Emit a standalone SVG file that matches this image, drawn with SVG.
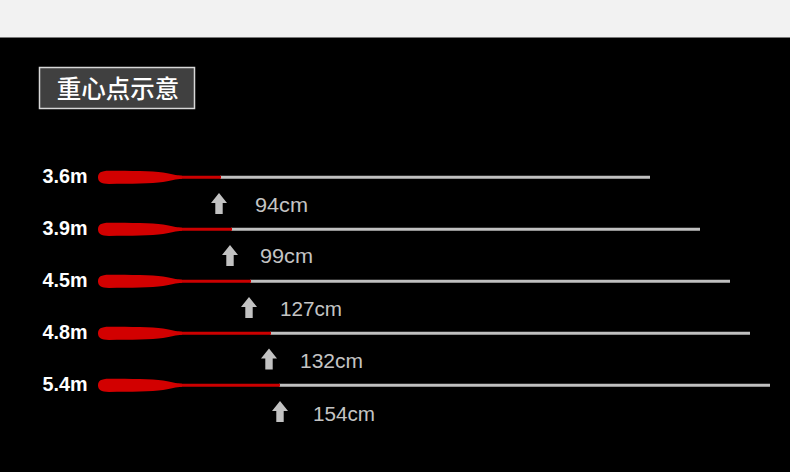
<svg xmlns="http://www.w3.org/2000/svg" xmlns:xlink="http://www.w3.org/1999/xlink" width="790" height="472" viewBox="0 0 790 472">
<style>
.len{font-family:"Liberation Sans",Arial,sans-serif;font-weight:bold;font-size:19.5px;fill:#ffffff}
.val{font-family:"Liberation Sans",Arial,sans-serif;font-size:20px;fill:#c4c4c4}
.red{stroke:#cc0000;stroke-width:3;fill:none}
.gray{stroke:#c0c0c0;stroke-width:3;fill:none}
.handle{fill:#d20000}
.arr{fill:#c2c2c2}
.title{font-family:"Noto Sans CJK SC","Noto Sans",sans-serif;font-weight:500;font-size:24.5px;fill:#ffffff}
</style>
<defs>
<path id="h" class="handle" d="M98,0 C98,-4.5 101,-6.6 109,-6.6 C130,-6.6 152,-6.4 163,-4.8 C171,-3.6 176,-1.8 182,-1.5 L182,1.5 C176,1.8 171,3.6 163,4.8 C152,6.4 130,6.6 109,6.6 C101,6.6 98,4.5 98,0 Z"/>
<path id="a" class="arr" d="M0,0 L8,10 L3.7,10 L3.7,21 L-3.7,21 L-3.7,10 L-8,10 Z"/>
</defs>
<rect x="0" y="0" width="790" height="472" fill="#000000"/>
<rect x="0" y="0" width="790" height="37.5" fill="#f2f2f2"/>
<g id="title">
<rect x="39.5" y="67.5" width="155" height="41" fill="#404040" stroke="#d8d8d8" stroke-width="1.5"/>
<text class="title" x="118" y="97.5" text-anchor="middle">重心点示意</text>
</g>
<g id="rod-3-6m">
<text class="len" x="42.5" y="182.8" textLength="45" lengthAdjust="spacingAndGlyphs">3.6m</text>
<line class="gray" x1="220" y1="177.3" x2="650" y2="177.3"/>
<line class="red" x1="178" y1="177.3" x2="221" y2="177.3"/>
<use xlink:href="#h" transform="translate(0,177.3)"/>
<use xlink:href="#a" transform="translate(219,193)"/>
<text class="val" x="255" y="211.8" textLength="53" lengthAdjust="spacingAndGlyphs">94cm</text>
</g>
<g id="rod-3-9m">
<text class="len" x="42.5" y="234.8" textLength="45" lengthAdjust="spacingAndGlyphs">3.9m</text>
<line class="gray" x1="231" y1="229.3" x2="700" y2="229.3"/>
<line class="red" x1="178" y1="229.3" x2="232" y2="229.3"/>
<use xlink:href="#h" transform="translate(0,229.3)"/>
<use xlink:href="#a" transform="translate(230,245)"/>
<text class="val" x="260" y="263" textLength="53" lengthAdjust="spacingAndGlyphs">99cm</text>
</g>
<g id="rod-4-5m">
<text class="len" x="42.5" y="286.8" textLength="45" lengthAdjust="spacingAndGlyphs">4.5m</text>
<line class="gray" x1="250" y1="281.3" x2="730" y2="281.3"/>
<line class="red" x1="178" y1="281.3" x2="251" y2="281.3"/>
<use xlink:href="#h" transform="translate(0,281.3)"/>
<use xlink:href="#a" transform="translate(249,297)"/>
<text class="val" x="280" y="315.5" textLength="62" lengthAdjust="spacingAndGlyphs">127cm</text>
</g>
<g id="rod-4-8m">
<text class="len" x="42.5" y="338.8" textLength="45" lengthAdjust="spacingAndGlyphs">4.8m</text>
<line class="gray" x1="270" y1="333.3" x2="750" y2="333.3"/>
<line class="red" x1="178" y1="333.3" x2="271" y2="333.3"/>
<use xlink:href="#h" transform="translate(0,333.3)"/>
<use xlink:href="#a" transform="translate(269,348.5)"/>
<text class="val" x="300" y="367.5" textLength="63" lengthAdjust="spacingAndGlyphs">132cm</text>
</g>
<g id="rod-5-4m">
<text class="len" x="42.5" y="390.8" textLength="45" lengthAdjust="spacingAndGlyphs">5.4m</text>
<line class="gray" x1="279" y1="385.3" x2="770" y2="385.3"/>
<line class="red" x1="178" y1="385.3" x2="280" y2="385.3"/>
<use xlink:href="#h" transform="translate(0,385.3)"/>
<use xlink:href="#a" transform="translate(280,401)"/>
<text class="val" x="313" y="420.5" textLength="62" lengthAdjust="spacingAndGlyphs">154cm</text>
</g>
<g id="connectors"></g>
</svg>
